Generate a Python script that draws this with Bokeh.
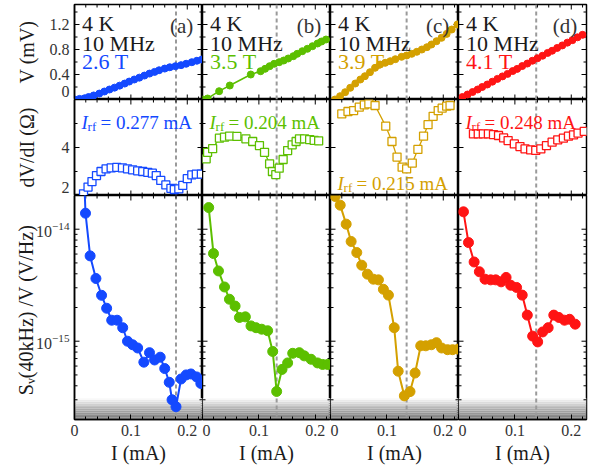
import math
import numpy as np
from bokeh.plotting import figure
from bokeh.models import Range1d, FixedTicker, Span, Label, BoxAnnotation
from bokeh.layouts import gridplot
from bokeh.embed import file_html
from bokeh.resources import INLINE

FONT = "Liberation Serif"
TXT = "#1a1a1a"
TICK_TXT = "#333333"

# ---------------- data ----------------
panel_tags = ["(a)", "(b)", "(c)", "(d)"]
temperature = "4 K"
frequency = "10 MHz"
fields = ["2.6 T", "3.5 T", "3.9 T", "4.1 T"]
colors = ["#1449ff", "#5cbf00", "#d4a000", "#ff1414"]
irf_values = ["0.277", "0.204", "0.215", "0.248"]
dashed_I = [0.180, 0.1315, 0.135, 0.1378]

# row 1: V (mV) vs I (mA)
I_v_a = [0, 0.009, 0.018, 0.025, 0.034, 0.044, 0.053, 0.062, 0.071, 0.080, 0.089, 0.097, 0.106,
         0.115, 0.124, 0.133, 0.142, 0.150, 0.160, 0.169, 0.179, 0.189, 0.198, 0.208, 0.217, 0.226]
V_a = [0, 0.01, 0.02, 0.04, 0.065, 0.095, 0.128, 0.16, 0.19, 0.222, 0.255, 0.287, 0.32,
       0.35, 0.383, 0.415, 0.442, 0.468, 0.495, 0.516, 0.533, 0.55, 0.572, 0.597, 0.62, 0.64]
I_v_b = [0, 0.009, 0.0295, 0.0484, 0.0856, 0.103, 0.111, 0.119, 0.127, 0.136, 0.144, 0.152,
         0.161, 0.168, 0.177, 0.186, 0.195, 0.204, 0.211, 0.219]
V_b = [0, 0.016, 0.133, 0.224, 0.40, 0.453, 0.491, 0.533, 0.571, 0.597, 0.624, 0.656,
       0.693, 0.731, 0.773, 0.811, 0.853, 0.896, 0.928, 0.96]
I_v_c = [0.008, 0.017, 0.026, 0.035, 0.044, 0.053, 0.061, 0.070, 0.079, 0.088, 0.097, 0.106,
         0.115, 0.126, 0.135, 0.144, 0.153, 0.162, 0.171, 0.179, 0.188, 0.197, 0.206, 0.215, 0.225]
V_c = [0, 0.053, 0.117, 0.187, 0.256, 0.32, 0.373, 0.437, 0.507, 0.56, 0.587, 0.613,
       0.645, 0.683, 0.704, 0.731, 0.763, 0.80, 0.837, 0.88, 0.933, 0.987, 1.05, 1.12, 1.2]
I_v_d = [0.007, 0.016, 0.025, 0.034, 0.042, 0.051, 0.060, 0.069, 0.078, 0.087, 0.096, 0.104,
         0.113, 0.122, 0.131, 0.140, 0.149, 0.158, 0.166, 0.175, 0.184, 0.193, 0.202, 0.211, 0.220]
V_d = [0.04, 0.08, 0.12, 0.16, 0.20, 0.24, 0.285, 0.33, 0.37, 0.41, 0.455, 0.49,
       0.535, 0.575, 0.62, 0.66, 0.70, 0.745, 0.78, 0.825, 0.865, 0.91, 0.95, 0.995, 1.035]

# row 2: dV/dI (Ohm) vs I (mA)
I_r_a = [0.016, 0.024, 0.031, 0.039, 0.047, 0.056, 0.065, 0.075, 0.085, 0.094, 0.103, 0.112, 0.121,
         0.130, 0.138, 0.145, 0.153, 0.162, 0.171, 0.177, 0.185, 0.192, 0.200, 0.208, 0.216, 0.225]
R_a = [2.07, 2.35, 2.58, 2.83, 3.0, 3.11, 3.15, 3.17, 3.15, 3.11, 3.07, 3.03, 3.0,
       2.96, 2.93, 2.83, 2.63, 2.44, 2.3, 2.25, 2.28, 2.42, 2.7, 2.86, 2.89, 2.89]
I_r_b = [0.0065, 0.009, 0.018, 0.030, 0.039, 0.048, 0.061, 0.077, 0.089, 0.101, 0.110, 0.119,
         0.124, 0.130, 0.136, 0.143, 0.151, 0.159, 0.166, 0.172, 0.181, 0.190, 0.198, 0.206]
R_b = [3.53, 3.8, 3.95, 4.39, 4.43, 4.47, 4.46, 4.36, 4.25, 4.08, 3.8, 3.32,
       3.0, 2.87, 3.14, 3.5, 3.87, 4.11, 4.25, 4.36, 4.36, 4.33, 4.3, 4.28]
I_r_c = [0.020, 0.031, 0.041, 0.051, 0.060, 0.068, 0.079, 0.098, 0.109, 0.118, 0.127, 0.135,
         0.145, 0.155, 0.165, 0.173, 0.182, 0.191, 0.198, 0.206, 0.212]
R_c = [5.4, 5.5, 5.54, 5.68, 5.78, 5.82, 5.75, 4.89, 4.25, 3.6, 3.18, 3.11,
       3.35, 3.92, 4.47, 4.95, 5.3, 5.54, 5.64, 5.72, 5.75]
I_r_d = [0.0265, 0.035, 0.044, 0.053, 0.062, 0.071, 0.080, 0.088, 0.099, 0.109, 0.118,
         0.128, 0.137, 0.146, 0.156, 0.166, 0.176, 0.186, 0.195, 0.204, 0.212, 0.223]
R_d = [4.57, 4.57, 4.57, 4.57, 4.54, 4.50, 4.40, 4.29, 4.15, 4.04, 3.94,
       3.90, 3.88, 3.94, 4.08, 4.22, 4.32, 4.39, 4.47, 4.53, 4.60, 4.67]

# row 3: S_V(40 kHz)/V (V/Hz) vs I (mA)
I_s_a = [0.017, 0.0195, 0.0277, 0.038, 0.048, 0.057, 0.066, 0.0755, 0.0855, 0.094, 0.103, 0.112, 0.123,
         0.133, 0.142, 0.152, 0.160, 0.168, 0.173, 0.180, 0.189, 0.198, 0.2065, 0.2165, 0.224]
S_a = [3.0e-14, 1.39e-14, 5.78e-15, 3.63e-15, 2.57e-15, 1.97e-15, 1.54e-15, 1.54e-15, 1.32e-15,
       1.0e-15, 9.3e-16, 8.7e-16, 6.5e-16, 7.9e-16, 6.8e-16, 7.2e-16, 5.7e-16, 4.3e-16, 3.0e-16,
       2.6e-16, 4.6e-16, 5.0e-16, 5.1e-16, 4.8e-16, 4.2e-16]
I_s_b = [0.011, 0.0195, 0.0283, 0.039, 0.0478, 0.0578, 0.0655, 0.076, 0.086, 0.095, 0.105, 0.1155,
         0.1245, 0.1315, 0.141, 0.151, 0.160, 0.1717, 0.1805, 0.1925, 0.204, 0.213, 0.222]
S_b = [1.56e-14, 6.06e-15, 4.24e-15, 3.05e-15, 2.37e-15, 2.06e-15, 1.63e-15, 1.65e-15, 1.37e-15,
       1.32e-15, 1.28e-15, 1.24e-15, 8.1e-16, 3.56e-16, 5.6e-16, 6.4e-16, 7.8e-16, 7.9e-16,
       7.4e-16, 6.9e-16, 6.4e-16, 6.2e-16, 6.2e-16]
I_s_c = [0.0083, 0.0172, 0.0278, 0.0366, 0.0466, 0.0554, 0.0655, 0.076, 0.085, 0.0938, 0.1027, 0.113,
         0.120, 0.131, 0.141, 0.150, 0.160, 0.169, 0.179, 0.188, 0.197, 0.2075, 0.2165, 0.2265]
S_c = [1.96e-14, 1.64e-14, 1.11e-14, 7.77e-15, 6.19e-15, 4.77e-15, 3.97e-15, 3.58e-15, 3.53e-15,
       2.91e-15, 2.58e-15, 1.32e-15, 5.4e-16, 3.25e-16, 3.55e-16, 5.2e-16, 9.1e-16, 9.1e-16,
       9.3e-16, 9.7e-16, 8.7e-16, 8.4e-16, 8.4e-16, 8.5e-16]
I_s_d = [0.0088, 0.0177, 0.0277, 0.037, 0.047, 0.057, 0.066, 0.0756, 0.0844, 0.0926, 0.103, 0.113,
         0.122, 0.1315, 0.1404, 0.1492, 0.159, 0.169, 0.178, 0.188, 0.197, 0.207]
S_d = [1.43e-14, 7.6e-15, 5.1e-15, 4.17e-15, 3.58e-15, 3.53e-15, 3.53e-15, 3.39e-15, 3.71e-15,
       3.16e-15, 3.02e-15, 2.58e-15, 1.71e-15, 1.11e-15, 9.86e-16, 1.21e-15, 1.32e-15, 1.71e-15,
       1.63e-15, 1.54e-15, 1.57e-15, 1.42e-15]

# axis limits and ticks
I_lim = (0, 0.227)
V_lim = (0, 1.52)
R_lim = (2, 6)
S_lim = (2e-16, 2e-14)
noise_floor = (2e-16, 3.1e-16)

x_major = [0, 0.1, 0.2]
x_minor = [0.02, 0.04, 0.06, 0.08, 0.12, 0.14, 0.16, 0.18, 0.22]
x_labels = {0: "0", 0.1: "0.1", 0.2: "0.2"}
v_major = [0, 0.4, 0.8, 1.2]
v_minor = [0.2, 0.6, 1.0, 1.4]
# the "0" label is lifted just above the shared panel border so that it is not cut
v_label_pos = [0.128, 0.4, 0.8, 1.2]
v_labels = {0.128: "0", 0.4: "0.4", 0.8: "0.8", 1.2: "1.2"}
r_major = [2, 4, 6]
r_minor = [3, 5]
r_label_pos = [2.33, 4]
r_labels = {2.33: "2", 4: "4"}
s_major = [1e-15, 1e-14]
s_minor = [2e-16, 3e-16, 4e-16, 5e-16, 6e-16, 7e-16, 8e-16, 9e-16,
           2e-15, 3e-15, 4e-15, 5e-15, 6e-15, 7e-15, 8e-15, 9e-15]
s_label_pos = [1e-15, 1e-14]

rows_data = [
    dict(x=[I_v_a, I_v_b, I_v_c, I_v_d], y=[V_a, V_b, V_c, V_d], lim=V_lim, log=False,
         major=v_major, minor=v_minor, lpos=v_label_pos, labels=v_labels,
         title="V (mV)", h=95, stand=9),
    dict(x=[I_r_a, I_r_b, I_r_c, I_r_d], y=[R_a, R_b, R_c, R_d], lim=R_lim, log=False,
         major=r_major, minor=r_minor, lpos=r_label_pos, labels=r_labels,
         title="dV/dI (\u03a9)", h=96, stand=21),
    dict(x=[I_s_a, I_s_b, I_s_c, I_s_d], y=[S_a, S_b, S_c, S_d], lim=S_lim, log=True,
         major=s_major, minor=s_minor, lpos=s_label_pos, labels=None,
         title="S\u1d65(40kHz) /V  (V/Hz)", h=224, stand=-4),
]


def style_axis(ax, ticks=True):
    ax.axis_line_color = "black"
    ax.axis_line_width = 1.5
    ax.major_tick_in = 5 if ticks else 0
    ax.major_tick_out = 0
    ax.minor_tick_in = 3 if ticks else 0
    ax.minor_tick_out = 0
    ax.major_tick_line_color = "black"
    ax.minor_tick_line_color = "black"
    ax.major_tick_line_width = 1
    ax.minor_tick_line_width = 1
    ax.major_label_text_font = FONT
    ax.major_label_text_color = TICK_TXT
    ax.major_label_text_font_size = "16px"
    ax.major_label_standoff = 5
    ax.axis_label_text_font = FONT
    ax.axis_label_text_font_size = "20px"
    ax.axis_label_text_font_style = "normal"
    ax.axis_label_text_color = TXT


def edge_ticks(p, ticks, fixed, vertical, size):
    # inward tick marks on a panel edge (half of each dash is clipped by the frame)
    p.scatter(list(ticks) if vertical else [fixed] * len(ticks),
              [fixed] * len(ticks) if vertical else list(ticks),
              marker="dash", size=size, angle=math.pi / 2 if vertical else 0,
              line_color="black", line_width=1)


grid = []
for r, rd in enumerate(rows_data):
    row_figs = []
    for c in range(4):
        p = figure(frame_width=128, frame_height=rd["h"],
                   x_range=Range1d(*I_lim), y_range=Range1d(*rd["lim"]),
                   y_axis_type="log" if rd["log"] else "linear",
                   output_backend="svg", toolbar_location=None,
                   min_border=0, min_border_left=74 if c == 0 else 0,
                   min_border_top=4 if r == 0 else 0,
                   min_border_right=8 if c == 3 else 0,
                   min_border_bottom=0)
        p.outline_line_color = "black"
        p.outline_line_width = 1.5
        p.xgrid.visible = False
        p.ygrid.visible = False
        p.background_fill_color = "white"
        p.border_fill_color = "white"

        ylo, yhi = rd["lim"]
        xlo, xhi = I_lim

        # x axis: real only on bottom row
        if r == 2:
            p.xaxis.ticker = FixedTicker(ticks=x_major, minor_ticks=x_minor)
            p.xaxis.major_label_overrides = x_labels
            style_axis(p.xaxis[0])
            p.xaxis.axis_label = "I (mA)"
            p.xaxis.axis_label_standoff = 3
        else:
            p.xaxis.visible = False
            edge_ticks(p, x_major, ylo, True, 10)
            edge_ticks(p, x_minor, ylo, True, 6)
        edge_ticks(p, x_major, yhi, True, 10)
        edge_ticks(p, x_minor, yhi, True, 6)

        # y axis: labels only on first column; tick marks drawn on every left/right edge
        if c == 0:
            p.yaxis.ticker = FixedTicker(ticks=rd["lpos"], minor_ticks=[])
            if rd["labels"] is not None:
                p.yaxis.major_label_overrides = rd["labels"]
            style_axis(p.yaxis[0], ticks=False)
            p.yaxis.axis_label = rd["title"]
            p.yaxis.axis_label_standoff = rd["stand"]
        else:
            p.yaxis.visible = False
        edge_ticks(p, rd["major"], xlo, False, 10)
        edge_ticks(p, rd["minor"], xlo, False, 6)
        edge_ticks(p, rd["major"], xhi, False, 10)
        edge_ticks(p, rd["minor"], xhi, False, 6)

        col = colors[c]
        xs, ys = rd["x"][c], rd["y"][c]

        if r == 2:
            lo, hi = noise_floor
            n = 12
            edges = np.geomspace(lo, hi, n + 1)
            for k in range(n):
                t = (k + 0.5) / n
                g = int(125 + 130 * t ** 1.3)
                p.add_layout(BoxAnnotation(bottom=edges[k], top=edges[k + 1],
                                           fill_color=(g, g, g), fill_alpha=1.0,
                                           line_alpha=0, level="underlay"))

        p.add_layout(Span(location=dashed_I[c], dimension="height", line_color="#9a9a9a",
                          line_dash="4 3", line_width=2, level="underlay"))

        if r == 0:
            p.line(xs, ys, line_color=col, line_width=1.5)
            p.scatter(xs, ys, marker="circle", size=7, fill_color=col, line_color=col)
            for txt, yv, tc in [(temperature, 1.216, TXT), (frequency, 0.896, TXT), (fields[c], 0.608, col)]:
                p.add_layout(Label(x=0.0135, y=yv, text=txt, text_font=FONT, text_font_size="22px",
                                   text_color=tc, text_baseline="alphabetic", text_align="left"))
            p.add_layout(Label(x=0.2106, y=1.17, text=panel_tags[c], text_font=FONT,
                               text_font_size="21px", text_color=TICK_TXT,
                               text_baseline="alphabetic", text_align="right"))
        elif r == 1:
            p.line(xs, ys, line_color=col, line_width=1.3)
            p.scatter(xs, ys, marker="square", size=8, fill_color="white", line_color=col,
                      line_width=1.3)
            ylab = 2.5 if c == 2 else 5.05
            x0 = 0.0125
            p.add_layout(Label(x=x0, y=ylab, text="I", text_font=FONT, text_font_size="19px",
                               text_font_style="italic", text_color=col, text_baseline="alphabetic"))
            p.add_layout(Label(x=x0, y=ylab, x_offset=6, y_offset=-4, text="rf", text_font=FONT,
                               text_font_size="13px", text_color=col, text_baseline="alphabetic"))
            p.add_layout(Label(x=x0, y=ylab, x_offset=19, text="= " + irf_values[c] + " mA",
                               text_font=FONT, text_font_size="19px", text_color=col,
                               text_baseline="alphabetic"))
        else:
            p.line(xs, ys, line_color=col, line_width=2)
            p.scatter(xs, ys, marker="circle", size=10, fill_color=col, line_color=col)
        row_figs.append(p)
    grid.append(row_figs)

layout = gridplot(grid, toolbar_location=None)
open("out.html", "w").write(file_html(layout, INLINE))
